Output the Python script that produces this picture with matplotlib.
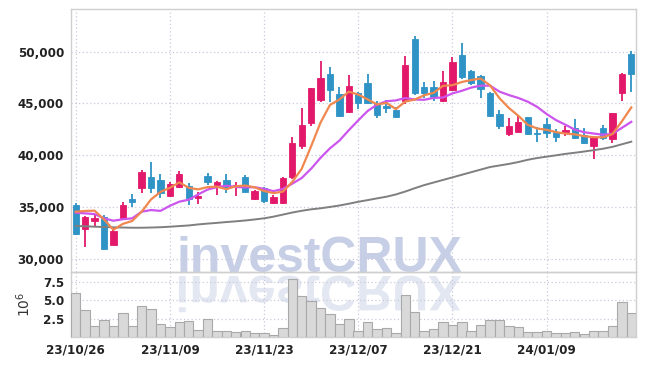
import matplotlib
matplotlib.use('Agg')
import matplotlib.pyplot as plt
import pandas as pd
from matplotlib.ticker import FuncFormatter
from matplotlib.textpath import TextPath
from matplotlib.patches import PathPatch
from matplotlib.font_manager import FontProperties, fontManager
from matplotlib.transforms import Affine2D

# trading days (KRX holidays removed)
dates = pd.bdate_range('2023-10-26', periods=60, freq='C',
                       holidays=['2023-12-25', '2023-12-29', '2024-01-01'])

open_ = [35180, 32880, 33630, 34040, 31340, 33950, 35760, 36820, 37910, 37590,
         36080, 36900, 37010, 35880, 37980, 37140, 37560, 36990, 37910, 35760,
         36800, 35400, 35400, 37910, 40910, 43130, 45330, 47840, 45910, 44200,
         45980, 47000, 45070, 44750, 44360, 45260, 51230, 46620, 46620, 45260,
         46300, 49680, 48130, 47650, 46040, 43980, 42040, 42260, 43660, 42170,
         43010, 42240, 42240, 42590, 41920, 40910, 42590, 41590, 46040, 49780]
high = [35400, 34100, 34210, 34200, 33080, 35500, 36210, 38560, 39300, 38170,
        37430, 38460, 37270, 36400, 38300, 37530, 38170, 37400, 38050, 36600,
        36950, 36140, 37900, 41720, 44530, 46500, 49130, 48490, 46560, 47750,
        46130, 47840, 45200, 45330, 44620, 49580, 51520, 47100, 47200, 48160,
        49460, 50870, 48200, 47750, 46100, 44360, 43560, 43880, 43700, 42750,
        43560, 42500, 42820, 43460, 42590, 41800, 42910, 44100, 47970, 50100]
low = [32300, 31090, 33020, 30900, 31300, 33900, 34950, 36310, 36310, 35820,
       36000, 36850, 35180, 35270, 37110, 36140, 36370, 36080, 36400, 35650,
       35400, 35270, 35300, 37660, 40560, 42840, 45170, 45170, 43660, 44100,
       44430, 44900, 43560, 44040, 43650, 44940, 45810, 45490, 45260, 45150,
       46200, 47330, 46800, 45490, 43700, 42500, 41850, 42200, 41950, 41300,
       41630, 41240, 41880, 41560, 41100, 39620, 41460, 41140, 45260, 46130]
close = [32350, 34050, 33900, 30900, 32700, 35180, 35500, 38370, 36850, 36300,
         37200, 38130, 35730, 36080, 37400, 37400, 36950, 37140, 36430, 36530,
         35590, 35980, 37800, 41140, 42910, 46460, 47430, 46300, 43810, 46680,
         45070, 45070, 43880, 44530, 43710, 48710, 46040, 45980, 45650, 47100,
         49030, 47580, 46940, 46420, 43780, 42840, 42820, 43170, 42040, 42040,
         42170, 41720, 42430, 41680, 41140, 41720, 41630, 44040, 47840, 47840]

# volume in millions
volume = [5.9, 3.65, 1.5, 2.3, 1.5, 3.2, 1.5, 4.2, 3.8, 1.75,
          1.3, 2.0, 2.1, 0.95, 2.5, 0.85, 0.85, 0.65, 0.85, 0.5,
          0.55, 0.25, 1.2, 7.9, 5.6, 4.9, 3.9, 3.05, 1.7, 2.5,
          0.85, 2.0, 1.05, 1.2, 0.55, 5.65, 3.4, 0.85, 1.1, 2.05,
          1.6, 2.05, 0.85, 1.6, 2.3, 2.3, 1.5, 1.3, 0.7, 0.65,
          0.85, 0.5, 0.5, 0.7, 0.35, 0.85, 0.85, 1.45, 4.7, 3.2]

ma5 = [34530, 34600, 34630, 33790, 32780, 33350, 33640, 34530, 35720, 36440,
       36840, 37370, 36840, 36690, 36910, 36950, 36710, 36990, 37060, 36890,
       36530, 36330, 36470, 37410, 38680, 40860, 43150, 44850, 45380, 46140,
       45860, 45390, 44900, 45050, 44450, 45180, 45370, 45790, 46020, 46700,
       46760, 47070, 47260, 47410, 46750, 45510, 44560, 43810, 42930, 42580,
       42450, 42230, 42080, 42010, 41830, 41740, 41720, 42040, 43270, 44610]
ma10 = [34430, 34370, 34300, 33890, 33660, 33800, 33890, 34530, 34690, 34610,
        35100, 35500, 35690, 36200, 36670, 36900, 37040, 36920, 36880, 36900,
        36740, 36520, 36730, 37240, 37790, 38690, 39740, 40660, 41400, 42410,
        43360, 44270, 44880, 45210, 45290, 45520, 45380, 45350, 45530, 45570,
        45970, 46220, 46530, 46720, 46720, 46140, 45810, 45530, 45170, 44670,
        43980, 43390, 42940, 42470, 42210, 42090, 41970, 42060, 42640, 43220]
ma60 = [33150, 33120, 33080, 33050, 33020, 33000, 32980, 32980, 33000, 33030,
        33080, 33140, 33200, 33300, 33380, 33450, 33530, 33600, 33680, 33780,
        33890, 34050, 34250, 34450, 34620, 34760, 34860, 34990, 35130, 35300,
        35490, 35650, 35820, 35980, 36200, 36480, 36800, 37100, 37350, 37600,
        37850, 38100, 38350, 38600, 38850, 39000, 39150, 39330, 39550, 39720,
        39850, 39980, 40120, 40230, 40350, 40480, 40620, 40800, 41050, 41300]

UP = '#e2196b'
DOWN = '#2f93c5'
GRID = '#c9cbdc'
SPINE = '#cfcfcf'

# narrow font for the tick labels if there is one
condensed = [f for f in fontManager.ttflist
             if f.name == 'DejaVu Sans' and f.stretch == 'condensed']
if condensed:
    tick_fp = FontProperties(family='DejaVu Sans', stretch='condensed',
                             weight='bold', size=9.5)
else:
    tick_fp = FontProperties(family='Roboto', weight='bold', size=9.5)

fig = plt.figure(figsize=(6.45, 3.66), dpi=100)
ax = fig.add_axes([71 / 645, 94 / 366, 565 / 645, 263 / 366])
axv = fig.add_axes([71 / 645, 29 / 366, 565 / 645, 65 / 366], sharex=ax)

x = list(range(len(dates)))

# candles
for i in x:
    col = UP if close[i] >= open_[i] else DOWN
    ax.vlines(i, low[i], high[i], color=col, linewidth=1.3, zorder=3)
    bottom = min(open_[i], close[i])
    h = max(abs(close[i] - open_[i]), 60)
    ax.bar(i, h, bottom=bottom, width=0.68, color=col, edgecolor=col,
           linewidth=0.6, zorder=4)

ax.plot(x, ma60, color='#7f7f7f', linewidth=1.4, zorder=5)
ax.plot(x, ma10, color='#cc55ee', linewidth=1.6, zorder=5)
ax.plot(x, ma5, color='#f0874e', linewidth=1.6, zorder=6)

axv.bar(x, volume, width=1.0, color='#d9d9d9', edgecolor='#a9a9a9',
        linewidth=0.8, zorder=3)

ax.set_xlim(-0.5, 59.5)
ax.set_ylim(28700, 54130)
axv.set_ylim(0, 8.8)

ax.set_yticks([30000, 35000, 40000, 45000, 50000])
ax.yaxis.set_major_formatter(FuncFormatter(lambda v, p: f'{v:,.0f}'))
axv.set_yticks([2.5, 5.0, 7.5])
axv.yaxis.set_major_formatter(FuncFormatter(lambda v, p: f'{v:.1f}'))
axv.set_ylabel(r'$10^6$', fontsize=10, color='#333333', labelpad=7)

tick_idx = x[::10]
axv.set_xticks(tick_idx)
axv.set_xticklabels([dates[i].strftime('%y/%m/%d') for i in tick_idx])
ax.tick_params(axis='x', labelbottom=False)

for a in (ax, axv):
    a.set_facecolor('none')
    a.grid(True, color=GRID, linestyle=(0, (1, 2)), linewidth=0.9)
    a.set_axisbelow(True)
    a.tick_params(length=0, labelcolor='#222222', pad=5)
    for s in a.spines.values():
        s.set_color(SPINE)
        s.set_linewidth(1.0)
    for lab in a.get_xticklabels() + a.get_yticklabels():
        lab.set_fontproperties(tick_fp)

# watermark + reflection, behind the axes
fig.text(320 / 645, 94 / 366, 'investCRUX', ha='center', va='baseline',
         fontsize=36, fontweight='bold', family='Liberation Sans',
         color='#c7cfe6', zorder=-1)
fp = FontProperties(family='Liberation Sans', weight='bold')
tp = TextPath((0, 0), 'investCRUX', size=0.5, prop=fp)
ext = tp.get_extents()
tr = (Affine2D().translate(-(ext.x0 + ext.x1) / 2, 0).scale(1, -1)
      .translate(3.20, 0.90) + fig.dpi_scale_trans)
fig.patches.append(PathPatch(tp, transform=tr, facecolor='#e3e7f2',
                             edgecolor='none', zorder=-1))

fig.savefig('out.png', dpi=100)
